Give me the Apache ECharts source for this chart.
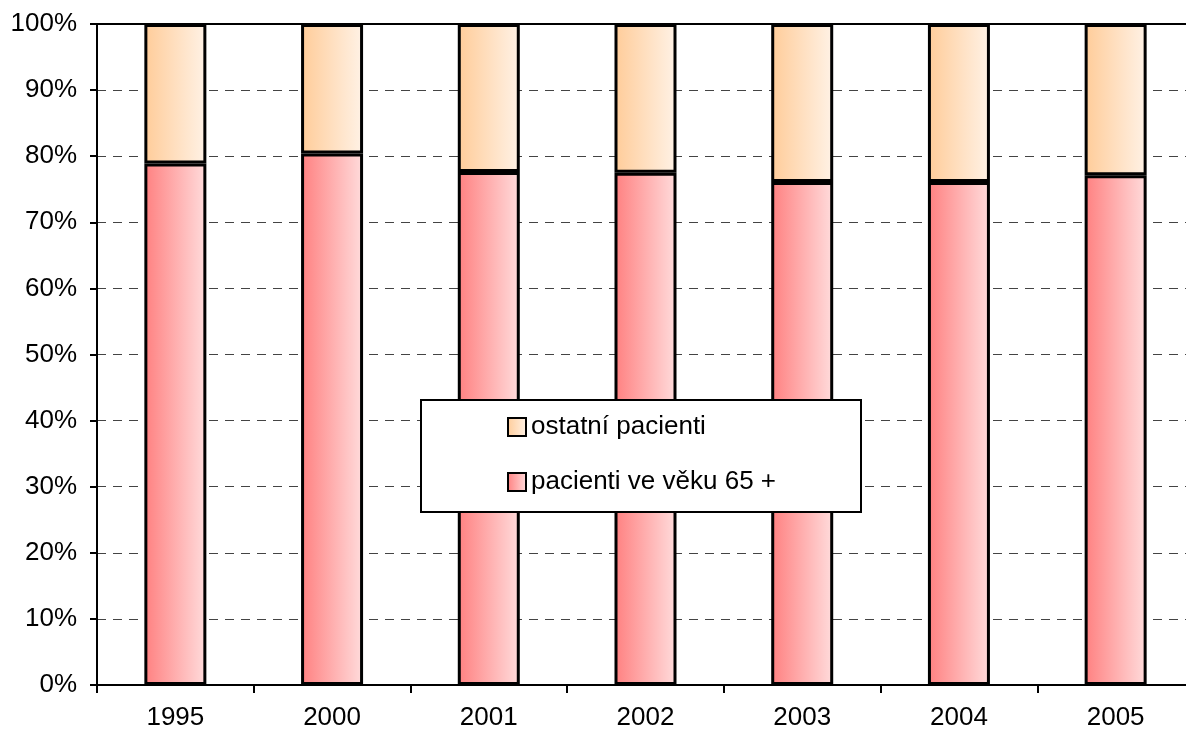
<!DOCTYPE html>
<html><head><meta charset="utf-8">
<script src="https://cdn.jsdelivr.net/npm/echarts@6/dist/echarts.min.js"></script>
<style>html,body{margin:0;padding:0;background:#fff;overflow:hidden}#c{width:1194px;height:733px}</style>
</head><body><div id="c"></div>
<script>
var categories = ['1995','2000','2001','2002','2003','2004','2005'];
var seniors = [78.9, 80.4, 77.6, 77.5, 76.1, 76.1, 77.1];
var others = seniors.map(function(v){ return +(100 - v).toFixed(1); });
var yTicks = [0,10,20,30,40,50,60,70,80,90,100];

var font = 'Liberation Sans, Arial, sans-serif';
function grad(a,b){ return {type:'linear',x:0,y:0,x2:1,y2:0,colorStops:[{offset:0,color:a},{offset:1,color:b}]}; }

var chart = echarts.init(document.getElementById('c'));
chart.setOption({
  animation:false,
  backgroundColor:'#fff',
  grid:{left:97, top:24, right:0, bottom:48, containLabel:false},
  xAxis:[{
    type:'category', data:categories, position:'bottom',
    axisLine:{lineStyle:{color:'#000',width:2}},
    axisTick:{show:true, length:8, lineStyle:{color:'#000',width:2}},
    axisLabel:{color:'#000', fontSize:26, fontFamily:font, margin:20}
  },{
    type:'category', data:categories, position:'top',
    axisLine:{show:true, lineStyle:{color:'#000',width:2}},
    axisTick:{show:false}, axisLabel:{show:false}
  }],
  yAxis:{
    type:'value', min:0, max:100, interval:10,
    axisLine:{show:true, lineStyle:{color:'#000',width:2}},
    axisTick:{show:true, length:7, lineStyle:{color:'#000',width:2}},
    axisLabel:{color:'#000', fontSize:26, fontFamily:font, margin:20,
      formatter:function(v){ return yTicks.indexOf(v) >= 0 ? v + '%' : ''; }},
    splitLine:{show:true, lineStyle:{color:'#444', width:1, type:[9,7]}}
  },
  legend:{
    orient:'vertical', left:507, top:414, itemGap:29, padding:0,
    itemWidth:18, itemHeight:18, icon:'rect',
    itemStyle:{borderColor:'#000', borderWidth:2},
    textStyle:{fontSize:26, fontFamily:font, color:'#000'},
    data:['ostatní pacienti','pacienti ve věku 65 +'],
    z:10
  },
  graphic:[{
    type:'rect', shape:{x:421, y:400, width:440, height:112},
    style:{fill:'#fff', stroke:'#000', lineWidth:2}, z:5
  }],
  series:[{
    name:'pacienti ve věku 65 +', type:'bar', stack:'a', barWidth:62,
    data:seniors,
    itemStyle:{color:grad('#FF8080','#FFDCDC'), borderColor:'#000', borderWidth:3}
  },{
    name:'ostatní pacienti', type:'bar', stack:'a', barWidth:62,
    data:others,
    itemStyle:{color:grad('#FFCC99','#FFF2E6'), borderColor:'#000', borderWidth:3}
  }]
});
</script></body></html>
